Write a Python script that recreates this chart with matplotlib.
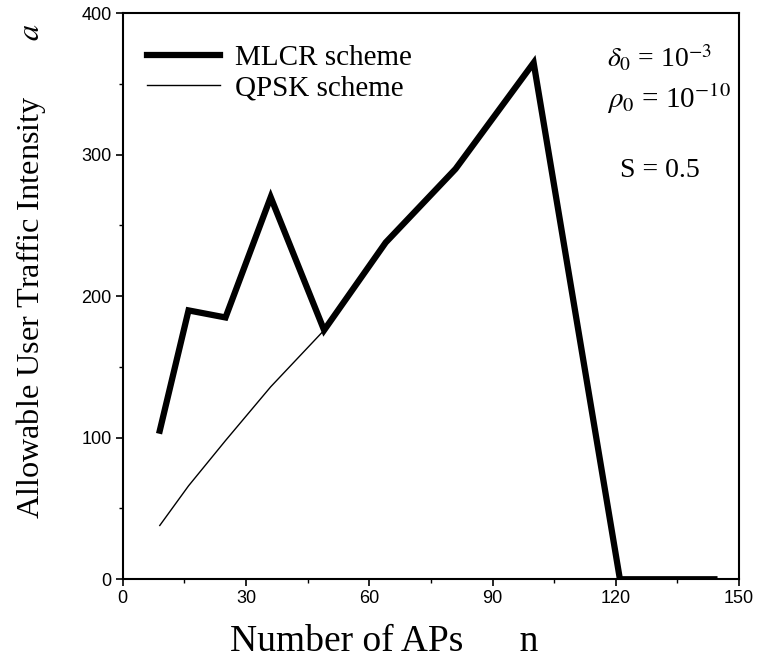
import numpy as np
import matplotlib
matplotlib.use('Agg')
import matplotlib.pyplot as plt
from matplotlib.ticker import MultipleLocator

# number of APs (square numbers) and allowable traffic intensity
apNum = [9, 16, 25, 36, 49, 64, 81, 100, 121, 144]
mlcrTraffic = [105, 190, 185, 270, 176, 238, 290, 365, 0, 0]
qpskNum = [9, 16, 25, 36, 49]
qpskTraffic = [38, 66, 98, 136, 176]

plt.rcParams['mathtext.fontset'] = 'stix'
serif = 'Liberation Serif'
sans = 'Liberation Sans'

fig = plt.figure(figsize=(7.58, 6.62), dpi=100)
ax = fig.add_axes([0.162, 0.125, 0.813, 0.855])

ax.plot(apNum, mlcrTraffic, color='black', linewidth=4.5, solid_joinstyle='miter',
        label='MLCR scheme', zorder=3)
ax.plot(qpskNum, qpskTraffic, color='black', linewidth=1.0, label='QPSK scheme', zorder=2)

ax.set_xlim(0, 150)
ax.set_ylim(0, 400)
ax.xaxis.set_major_locator(MultipleLocator(30))
ax.xaxis.set_minor_locator(MultipleLocator(15))
ax.yaxis.set_major_locator(MultipleLocator(100))
ax.yaxis.set_minor_locator(MultipleLocator(50))
ax.tick_params(which='major', direction='out', length=5, width=1.2, labelsize=13, pad=3)
ax.tick_params(which='minor', direction='out', length=3, width=1.0)
for lab in ax.get_xticklabels() + ax.get_yticklabels():
    lab.set_fontfamily(sans)
for sp in ax.spines.values():
    sp.set_linewidth(1.5)

ax.set_xlabel('Number of APs      n', fontsize=27, fontfamily=serif)
ax.xaxis.label.set_ha('left')
ax.xaxis.label.set_va('center')
ax.xaxis.set_label_coords(0.174, -0.111)

ax.set_ylabel('Allowable User Traffic Intensity       $a$', fontsize=23.2, fontfamily=serif)
ax.yaxis.label.set_va('center')
ax.yaxis.set_label_coords(-0.149, 0.544)

ax.legend(loc='upper left', bbox_to_anchor=(0.04, 0.945), frameon=False,
          prop={'family': serif, 'size': 21}, handlelength=2.5,
          handletextpad=0.5, labelspacing=0.15, borderpad=0, borderaxespad=0)

ax.text(0.785, 0.921, r'$\delta_0$ = 10$^{-3}$', transform=ax.transAxes, fontsize=20,
        fontfamily=serif, ha='left', va='center')
ax.text(0.785, 0.848, r'$\rho_0$ = 10$^{-10}$', transform=ax.transAxes, fontsize=21,
        fontfamily=serif, ha='left', va='center')
ax.text(0.871, 0.722, 'S = 0.5', transform=ax.transAxes, fontsize=20,
        fontfamily=serif, ha='center', va='center')

fig.savefig('out.png', dpi=100)
